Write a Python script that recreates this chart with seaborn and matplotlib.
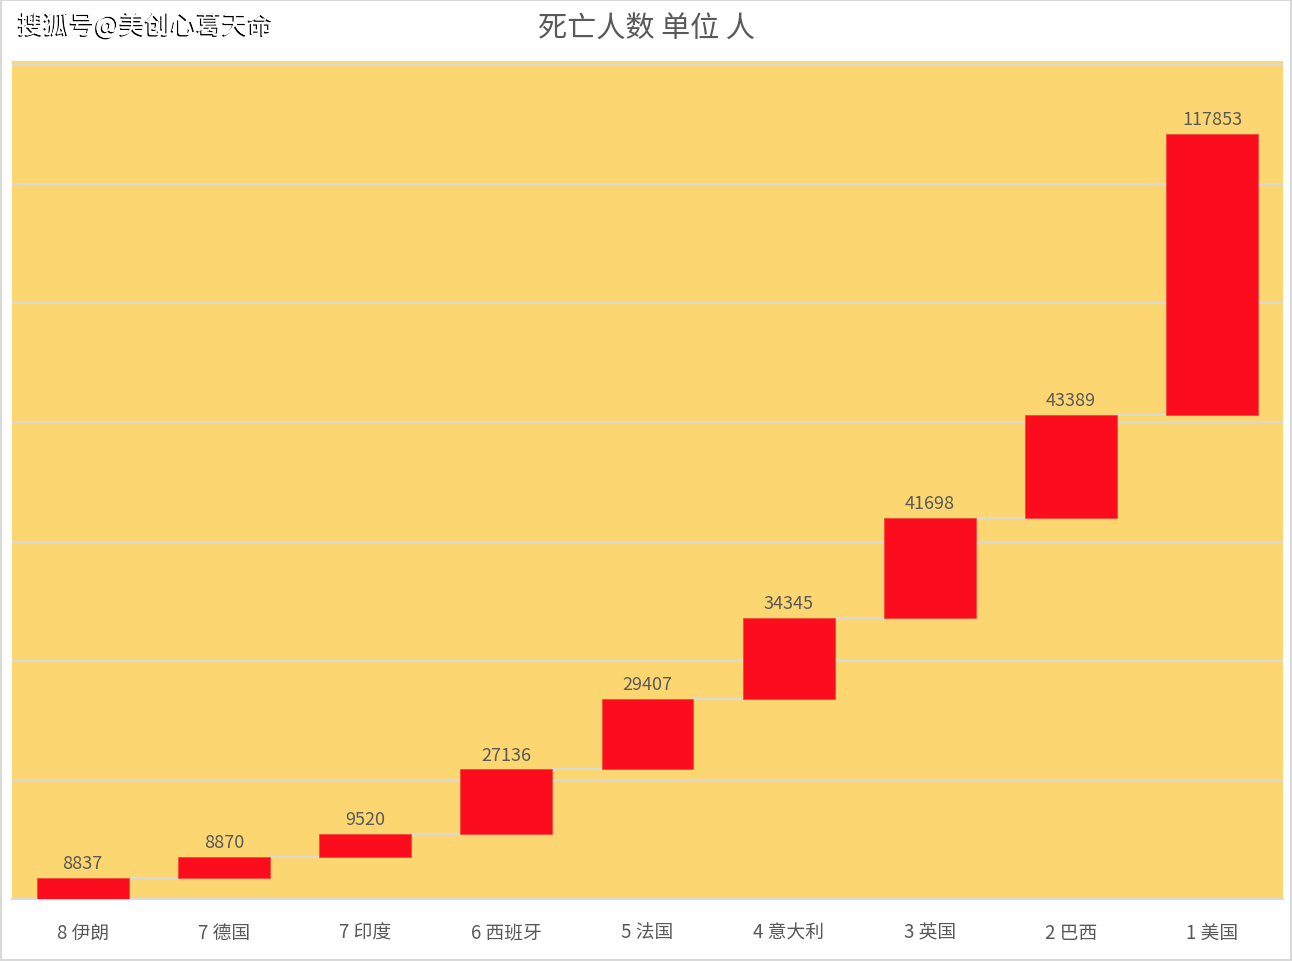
import numpy as np
import pandas as pd
import matplotlib
matplotlib.use("Agg")
import matplotlib.pyplot as plt
import matplotlib.patheffects as pe
import seaborn as sns

# waterfall data: deaths per country
countries = ['8 伊朗', '7 德国', '7 印度', '6 西班牙', '5 法国', '4 意大利', '3 英国', '2 巴西', '1 美国']
deaths = [8837, 8870, 9520, 27136, 29407, 34345, 41698, 43389, 117853]

tops = np.cumsum(deaths)
bottoms = tops - np.array(deaths)

df = pd.DataFrame({'country': countries, 'deaths': deaths, 'bottom': bottoms})

sns.set_style("white")
plt.rcParams['font.family'] = ['Noto Sans CJK SC', 'DejaVu Sans']

fig = plt.figure(figsize=(12.92, 9.62), dpi=100)
ax = fig.add_axes([12/1292, 1 - 900/962, 1271/1292, (900 - 62)/962])
ax.set_facecolor('#FCD671')

red = '#FC0D1E'
width = 0.65
sns.barplot(data=df, x='country', y='deaths', bottom=df['bottom'].values,
            color=red, saturation=1, width=width, ax=ax, zorder=3,
            edgecolor='#F44A3A', linewidth=0.6)

# 0 sits on the bottom edge, 350000 a few pixels below the top edge
ax.set_ylim(0, 350000 * (900 - 62) / (900 - 66))
ax.set_xlim(-0.5, len(countries) - 0.5)
ax.set_yticks(np.arange(0, 350001, 50000))
ax.yaxis.grid(True, color='#D9D9D9', linewidth=1.5, zorder=0)
ax.set_axisbelow(True)
ax.tick_params(axis='y', left=False, labelleft=False)
ax.tick_params(axis='x', bottom=False, pad=13, labelsize=13.5, labelcolor='#595959')
ax.set_xlabel('')
ax.set_ylabel('')
for s in ['left', 'right', 'top']:
    ax.spines[s].set_visible(False)
ax.spines['bottom'].set_color('#D9D9D9')
ax.spines['bottom'].set_linewidth(1.5)

# connectors between bars
for i in range(len(deaths) - 1):
    ax.plot([i + width / 2, i + 1 - width / 2], [tops[i], tops[i]],
            color='#D9D9D9', linewidth=1.5, zorder=2)

# value labels
for i, v in enumerate(deaths):
    ax.text(i, tops[i] + 2500, str(v), ha='center', va='bottom',
            fontsize=13, color='#595959', zorder=4)

fig.text(0.5, 1 - 30/962, '死亡人数 单位 人', ha='center', va='center',
         fontsize=21, color='#595959')

wm = fig.text(18/1292, 1 - 27/962, '搜狐号@美创心葛天命', ha='left', va='center',
              fontsize=18.5, color='white')
wm.set_path_effects([pe.withSimplePatchShadow(offset=(-1, -1), shadow_rgbFace='black', alpha=1),
                     pe.Normal()])

# figure border
fig.patches.append(plt.Rectangle((0.001, 0.001), 0.998, 0.998, transform=fig.transFigure,
                                 fill=False, edgecolor='#D9D9D9', linewidth=1.5))

fig.savefig('out.png', dpi=100, facecolor='white')
